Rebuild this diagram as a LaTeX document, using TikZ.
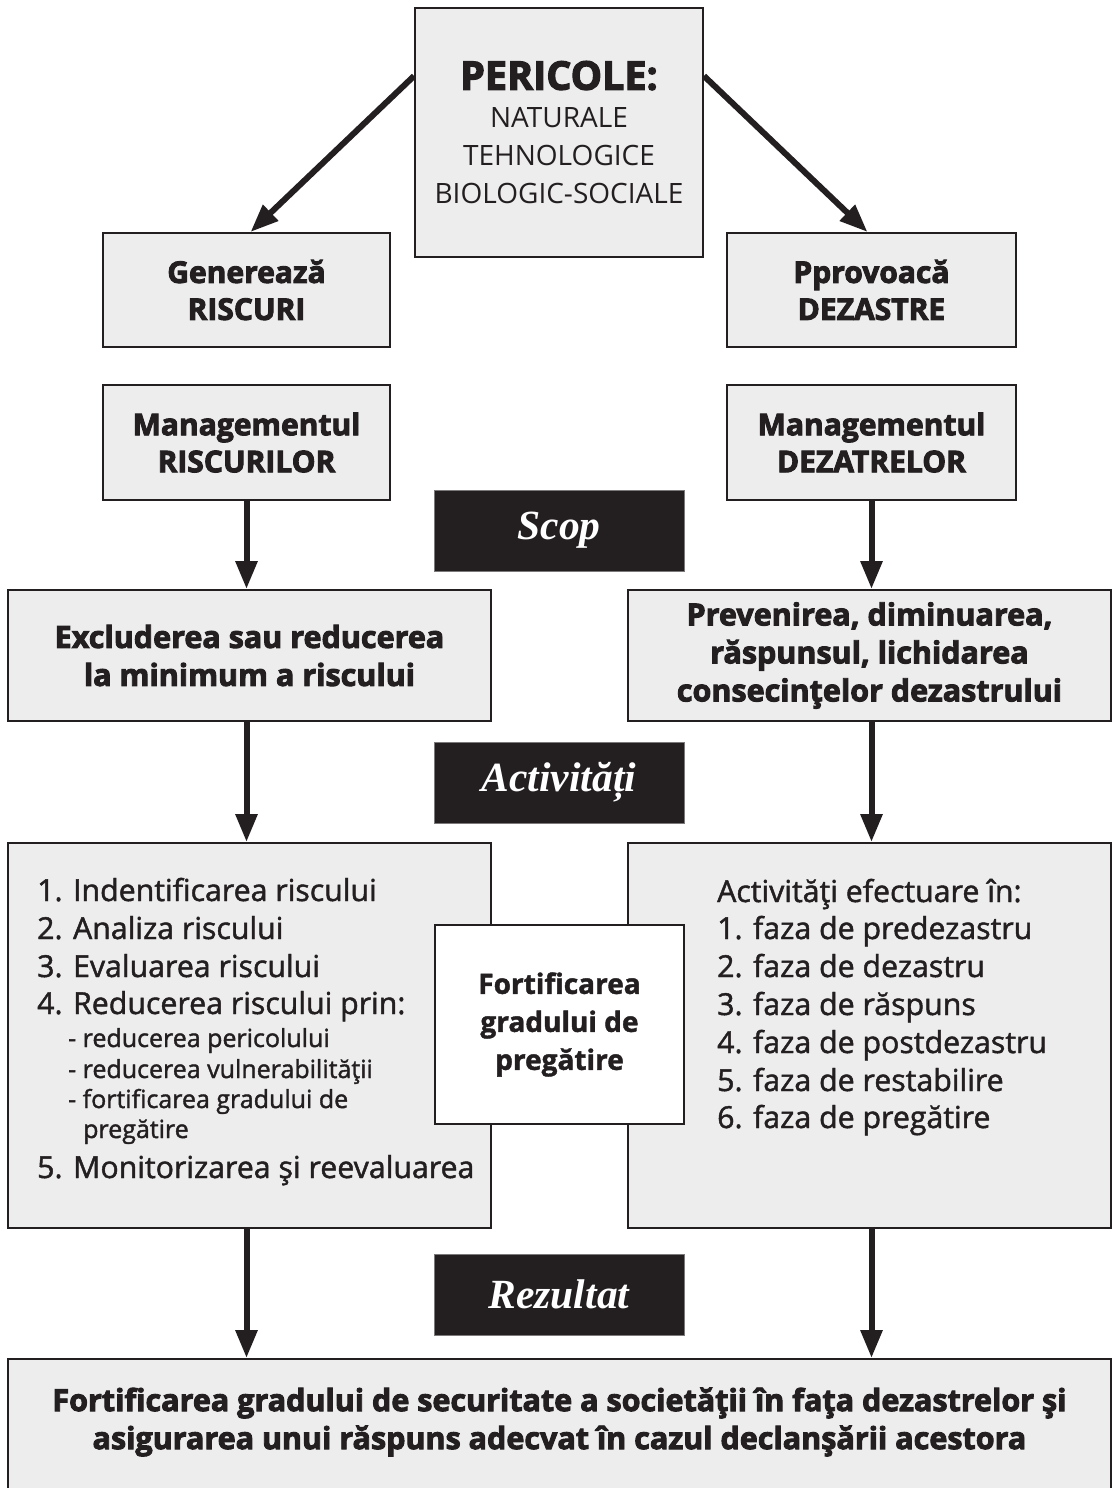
\documentclass[tikz,border=0pt]{standalone}
\usepackage{fontspec}
\setmainfont{Open Sans}
\newfontfamily\heavy[FakeBold=3]{Open Sans}
\newfontfamily\semi[FakeBold=1.5]{Open Sans}
\newfontfamily\tagfont{Liberation Serif}
\usetikzlibrary{arrows.meta}
\definecolor{ink}{HTML}{231F20}
\definecolor{boxgray}{HTML}{EDEDED}
\tikzset{
  box/.style={draw=ink, line width=2pt, fill=boxgray, inner sep=0pt, align=center, text=ink},
  headtxt/.style={font=\heavy\bfseries\fontsize{30}{37}\selectfont},
  goaltxt/.style={font=\heavy\bfseries\fontsize{30.5}{38}\selectfont},
  tagbox/.style={fill=ink, draw=ink!60, line width=0.6pt, minimum width=250pt, minimum height=81pt,
    inner sep=0pt, text=white, font=\tagfont\bfseries\itshape\fontsize{41.5}{42}\selectfont},
  item/.style={anchor=base west, inner sep=0pt, text=ink, font=\semi\fontsize{30.3}{38}\selectfont},
  subitem/.style={anchor=base west, inner sep=0pt, text=ink, font=\semi\fontsize{25}{30}\selectfont},
  arr/.style={draw=ink, line width=6pt, -{Triangle[length=28pt,width=21pt]}},
}
\begin{document}
\begin{tikzpicture}[x=1pt,y=-1pt]
\useasboundingbox (0,0) rectangle (1114,1488);

% top: hazards
\node[box, minimum width=288pt, minimum height=249pt, font=\fontsize{28}{38}\selectfont] (per) at (559,132.5)
  {{\heavy\bfseries\fontsize{39.5}{38}\selectfont PERICOLE:}\\NATURALE\\TEHNOLOGICE\\BIOLOGIC-SOCIALE};

% second row
\node[box, headtxt, minimum width=287pt, minimum height=114pt] (gen) at (246.5,290) {Generează\\RISCURI};
\node[box, headtxt, minimum width=289pt, minimum height=114pt] (pro) at (871.5,290) {Pprovoacă\\DEZASTRE};

% management
\node[box, headtxt, minimum width=287pt, minimum height=115pt] (mr) at (246.5,442.5) {Managementul\\RISCURILOR};
\node[box, headtxt, minimum width=289pt, minimum height=115pt] (md) at (871.5,442.5) {Managementul\\DEZATRELOR};

% section tags
\node[tagbox] (scop) at (559,530.5) {Scop};
\node[tagbox] (act) at (559,782.5) {Activități};
\node[tagbox] (rez) at (559,1294.5) {Rezultat};

% goals
\node[box, goaltxt, minimum width=483pt, minimum height=131pt] (excl) at (249.5,655.5)
  {Excluderea sau reducerea\\la minimum a riscului};
\node[box, goaltxt, minimum width=483pt, minimum height=131pt] (prev) at (869.5,655.5)
  {Prevenirea, diminuarea,\\răspunsul, lichidarea\\consecinţelor dezastrului};

% activity boxes
\node[box, minimum width=483pt, minimum height=385pt] (ll) at (249.5,1035.5) {};
\node[box, minimum width=483pt, minimum height=385pt] (rl) at (869.5,1035.5) {};
\node[box, fill=white, minimum width=249pt, minimum height=199pt,
  font=\semi\bfseries\fontsize{28}{38}\selectfont] (fort) at (559.5,1024.5)
  {Fortificarea\\gradului de\\pregătire};

% left list
\node[item] (l1) at (37,901) {1. Indentificarea riscului};
\node[item] (l2) at (37,939) {2. Analiza riscului};
\node[item] (l3) at (37,977) {3. Evaluarea riscului};
\node[item] (l4) at (37,1014) {4. Reducerea riscului prin:};
\node[subitem] (l4a) at (68,1047) {- reducerea pericolului};
\node[subitem] (l4b) at (68,1078) {- reducerea vulnerabilităţii};
\node[subitem] (l4c) at (68,1108) {- fortificarea gradului de};
\node[subitem] (l4d) at (83,1138) {pregătire};
\node[item] (l5) at (37,1178) {5. Monitorizarea şi reevaluarea};

% right list
\node[item] (r0) at (717,902) {Activităţi efectuare în:};
\node[item] (r1) at (717,939) {1. faza de predezastru};
\node[item] (r2) at (717,977) {2. faza de dezastru};
\node[item] (r3) at (717,1015) {3. faza de răspuns};
\node[item] (r4) at (717,1053) {4. faza de postdezastru};
\node[item] (r5) at (717,1091) {5. faza de restabilire};
\node[item] (r6) at (717,1128) {6. faza de pregătire};

% result
\node[box, minimum width=1103pt, minimum height=161pt] (res) at (559.5,1439.5) {};
\node[goaltxt, text=ink, align=center, inner sep=0pt] (restxt) at (559.5,1422)
  {Fortificarea gradului de securitate a societăţii în faţa dezastrelor şi\\
   asigurarea unui răspuns adecvat în cazul declanşării acestora};

% connectors
\draw[arr] ([yshift=-69pt]per.north west) -- ([xshift=4pt]gen.north);
\draw[arr] ([yshift=-69pt]per.north east) -- ([xshift=-4pt]pro.north);
\draw[arr] (mr.south) -- (mr.south |- excl.north);
\draw[arr] (md.south) -- (md.south |- prev.north);
\draw[arr] (mr.south |- excl.south) -- (mr.south |- ll.north);
\draw[arr] (md.south |- prev.south) -- (md.south |- rl.north);
\draw[arr] (mr.south |- ll.south) -- (mr.south |- res.north);
\draw[arr] (md.south |- rl.south) -- (md.south |- res.north);
\end{tikzpicture}
\end{document}
